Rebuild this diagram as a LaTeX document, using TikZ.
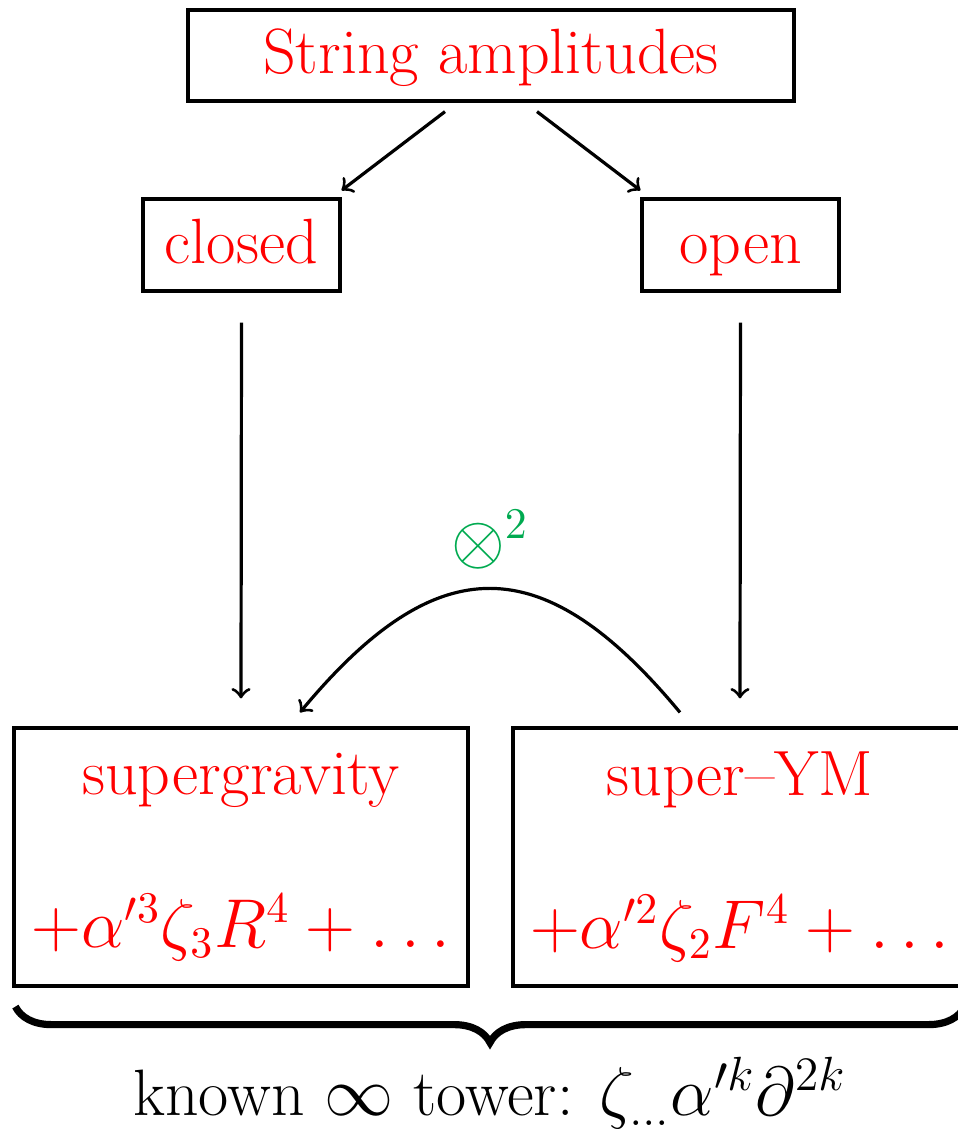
\documentclass[tikz,border=0pt]{standalone}
\usepackage{amsmath}
\usetikzlibrary{decorations.pathreplacing}
\definecolor{tensgreen}{RGB}{0,170,80}
\newcommand{\mathbig}[1]{{\fontsize{16.2}{19.4}\selectfont$#1$}}

\begin{document}
\begin{tikzpicture}[x=0.25pt,y=-0.25pt,
  box/.style={draw=black, line width=0.8pt, text=red, inner sep=0pt, align=center,
    font=\fontsize{16}{19.2}\selectfont},
  small box/.style={box, minimum width=49.25pt, minimum height=23pt, text height=11.4pt, text depth=2.3pt},
  big box/.style={box, minimum width=113.5pt, minimum height=64.5pt},
  arr/.style={->, line width=0.8pt}]
\useasboundingbox (0,0) rectangle (957,1129);
\node[box, minimum width=151.5pt, minimum height=22.75pt, text height=11.4pt, text depth=2.3pt] (amp) at (491,55.5) {String amplitudes};
\node[small box] (closed) at (241.5,245) {closed};
\node[small box] (open) at (740.5,245) {open};
\node[big box] (sugra) at (241,857) {supergravity\\[19pt]\mathbig{+\alpha'^3\zeta_3R^4+\ldots}};
\node[big box] (sym) at (740,857) {super--YM\\[19pt]\mathbig{+\alpha'^2\zeta_2F^4+\ldots}};
\draw[arr] ([xshift=-11.5pt,yshift=-2.25pt]amp.south) -- ([yshift=1.75pt]closed.north east);
\draw[arr] ([xshift=11.5pt,yshift=-2.25pt]amp.south) -- ([yshift=1.75pt]open.north west);
\draw[arr] ([yshift=-7.5pt]closed.south) -- ([yshift=7pt]sugra.north);
\draw[arr] ([yshift=-7.5pt]open.south) -- ([yshift=7pt]sym.north);
\draw[arr] ([xshift=-15pt,yshift=3.5pt]sym.north) .. controls +(-137,-165) and +(137,-165) .. ([xshift=14.75pt,yshift=3.5pt]sugra.north)
  node[midway, above=1pt, text=tensgreen] (tens) {\mathbig{\otimes^2}};
\draw[line width=1.8pt, decorate, decoration={brace, mirror, amplitude=9pt}]
  ([xshift=0.75pt,yshift=-4.75pt]sugra.south west) -- ([xshift=-1pt,yshift=-4.75pt]sym.south east);
\node[font=\fontsize{16.4}{19.7}\selectfont] (tower) at (490,1093) {known $\infty$ tower: $\zeta_{\ldots}\alpha'^k\partial^{2k}$};
\end{tikzpicture}
\end{document}
